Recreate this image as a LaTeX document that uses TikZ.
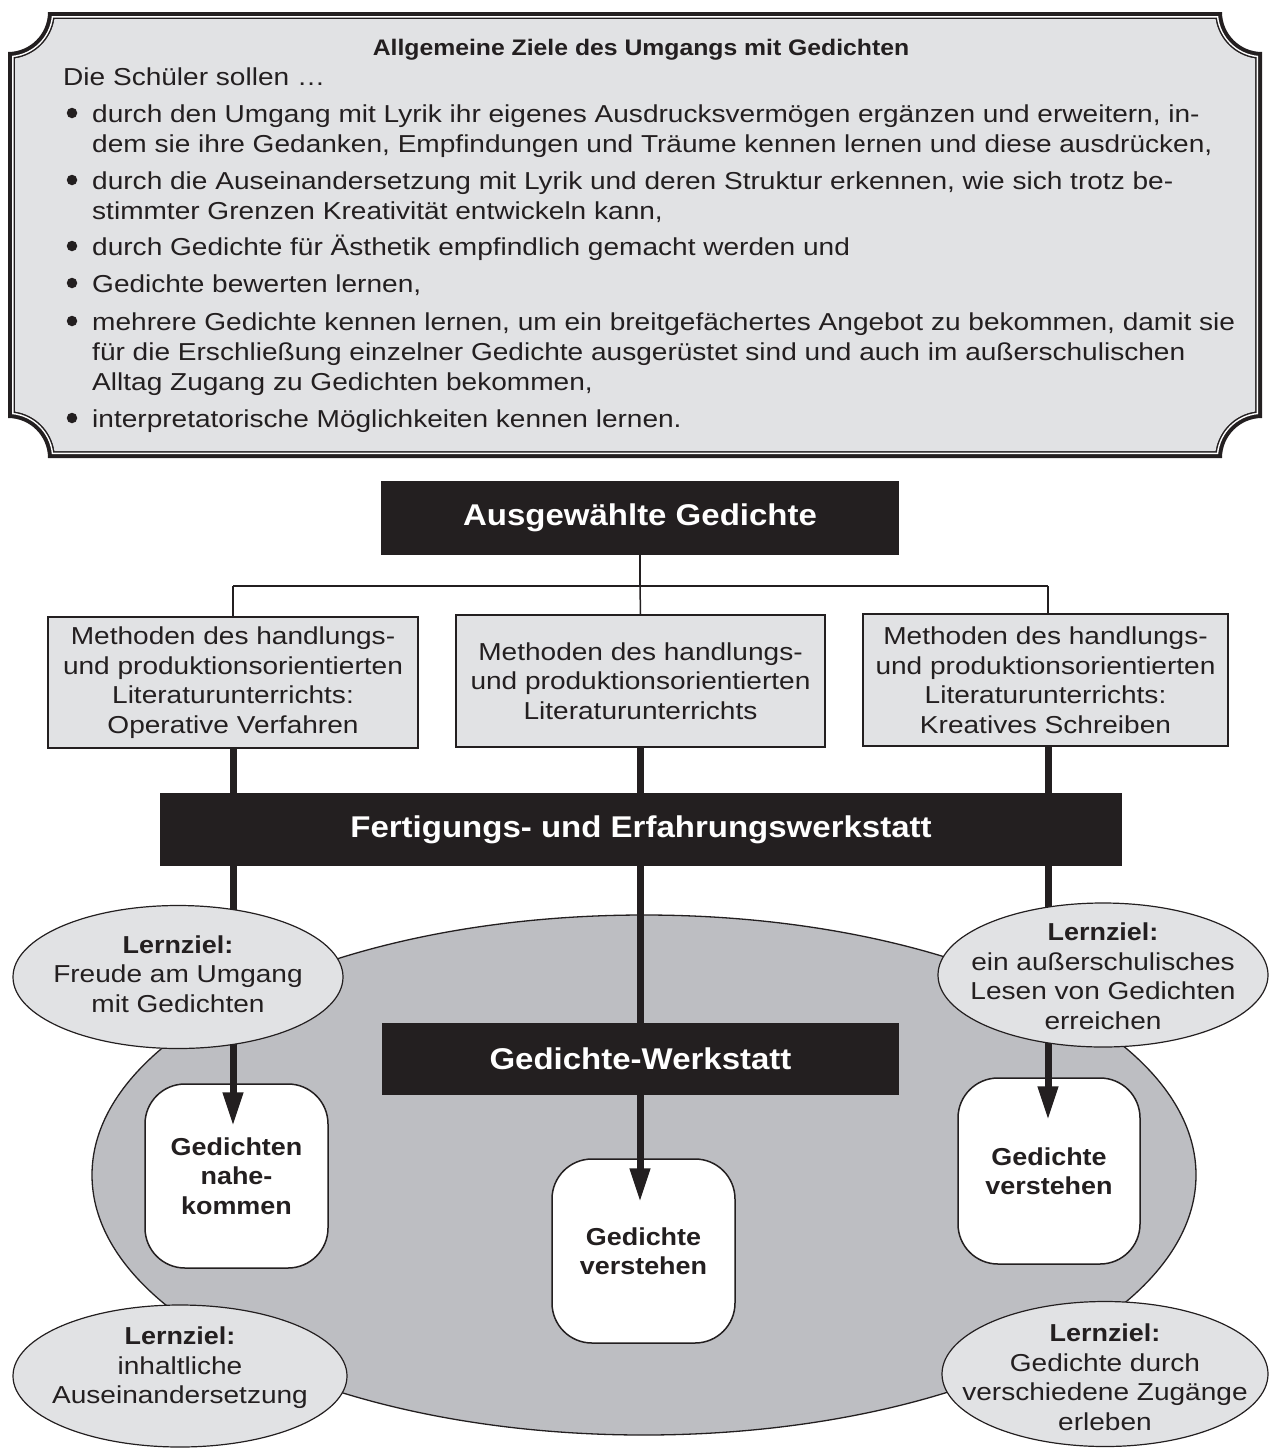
\documentclass[tikz,border=0pt]{standalone}
\usepackage{fontspec}
\setmainfont{Liberation Sans}[UprightFeatures={FakeStretch=1.145},BoldFeatures={FakeStretch=1.1}]
\usetikzlibrary{shapes.geometric,arrows.meta,calc}
\definecolor{ink}{HTML}{231F20}
\definecolor{lightbox}{HTML}{E1E2E4}
\definecolor{biggray}{HTML}{BDBEC2}
\newcommand\zierrahmen[2]{%
  \pgfmathsetmacro\zr{40+#1}%
  \pgfmathsetmacro\za{asin(#1/\zr)}%
  \pgfmathsetmacro\zt{sqrt(\zr*\zr-#1*#1)}%
  \fill[#2] (8+#1,12+\zt) arc[start angle=90-\za, end angle=\za, radius=\zr]
    -- (1262-\zt,12+#1) arc[start angle=180-\za, end angle=90+\za, radius=\zr]
    -- (1262-#1,458-\zt) arc[start angle=270-\za, end angle=180+\za, radius=\zr]
    -- (8+\zt,458-#1) arc[start angle=360-\za, end angle=270+\za, radius=\zr]
    -- cycle;
}
\begin{document}
\begin{tikzpicture}[x=1pt,y=-1pt,
  body/.style={font=\fontsize{24.5}{29.5}\selectfont, text=ink, inner sep=0pt},
  txtline/.style={body, anchor=base west},
  titleline/.style={font=\bfseries\fontsize{22.5}{27}\selectfont, text=ink, inner sep=0pt, anchor=base},
  dot/.style={circle, fill=ink, inner sep=0pt, minimum size=10.5pt},
  methbox/.style={draw=ink, line width=1.3pt, fill=lightbox, body, align=center},
  blackbox/.style={fill=ink, text=white, font=\bfseries\fontsize{30}{36}\selectfont, inner sep=0pt},
  goal/.style={ellipse, draw=ink, line width=1.2pt, fill=lightbox, inner sep=0pt},
  goaltext/.style={body, align=center},
  roundbox/.style={draw=ink, line width=1.5pt, fill=white, rounded corners=40pt, font=\bfseries\fontsize{24.5}{29.5}\selectfont, text=ink, align=center, inner sep=0pt},
  thinlink/.style={draw=ink, line width=1.5pt},
  arrowlink/.style={draw=ink, line width=7pt, -{Triangle[length=34pt,width=19pt]}},
]
\useasboundingbox (0,0) rectangle (1269,1448);
% ---------- top frame ----------
\zierrahmen{0}{ink}
\zierrahmen{4}{white}
\zierrahmen{5.5}{ink}
\zierrahmen{7}{lightbox}
\node[titleline] (ttl) at (641,55) {Allgemeine Ziele des Umgangs mit Gedichten};
\node[txtline] (l0) at (63,85) {Die Schüler sollen …};
\node[dot] (b1) at (72,113) {};
\node[txtline] (l1) at (92,122) {durch den Umgang mit Lyrik ihr eigenes Ausdrucksvermögen ergänzen und erweitern, in-};
\node[txtline] (l2) at (92,152) {dem sie ihre Gedanken, Empfindungen und Träume kennen lernen und diese ausdrücken,};
\node[dot] (b2) at (72,180) {};
\node[txtline] (l3) at (92,189) {durch die Auseinandersetzung mit Lyrik und deren Struktur erkennen, wie sich trotz be-};
\node[txtline] (l4) at (92,219) {stimmter Grenzen Kreativität entwickeln kann,};
\node[dot] (b3) at (72,246) {};
\node[txtline] (l5) at (92,255) {durch Gedichte für Ästhetik empfindlich gemacht werden und};
\node[dot] (b4) at (72,283) {};
\node[txtline] (l6) at (92,292) {Gedichte bewerten lernen,};
\node[dot] (b5) at (72,321) {};
\node[txtline] (l7) at (92,330) {mehrere Gedichte kennen lernen, um ein breitgefächertes Angebot zu bekommen, damit sie};
\node[txtline] (l8) at (92,360) {für die Erschließung einzelner Gedichte ausgerüstet sind und auch im außerschulischen};
\node[txtline] (l9) at (92,390) {Alltag Zugang zu Gedichten bekommen,};
\node[dot] (b6) at (72,418) {};
\node[txtline] (l10) at (92,427) {interpretatorische Möglichkeiten kennen lernen.};
% ---------- upper diagram ----------
\node[blackbox, minimum width=518pt, minimum height=74pt] (ausw) at (640,518) {Ausgewählte Gedichte};
\node[methbox, minimum width=370pt, minimum height=131pt] (m1) at (233,682.5)
  {Methoden des handlungs-\\und produktionsorientierten\\Literaturunterrichts:\\Operative Verfahren};
\node[methbox, minimum width=369pt, minimum height=132pt] (m2) at (640.5,681)
  {Methoden des handlungs-\\und produktionsorientierten\\Literaturunterrichts};
\node[methbox, minimum width=365pt, minimum height=132pt] (m3) at (1045.5,680)
  {Methoden des handlungs-\\und produktionsorientierten\\Literaturunterrichts:\\Kreatives Schreiben};
\coordinate (hl) at (233,586);
\coordinate (hr) at (1048,586);
\draw[thinlink] (ausw.south) -- (ausw.south |- hl);
\draw[thinlink] (hl) -- (hr);
\draw[thinlink] (hl) -- (hl |- m1.north);
\draw[thinlink] (hr) -- (hr |- m3.north);
\draw[thinlink] (ausw.south |- hl) -- (m2.north);
% ---------- lower diagram ----------
\node[ellipse, draw=ink, line width=1.3pt, fill=biggray, minimum width=1104pt, minimum height=520pt, inner sep=0pt] (werk) at (644,1175) {};
\node[roundbox, minimum width=183pt, minimum height=184pt] (nahe) at (236.5,1176) {Gedichten\\nahe-\\kommen};
\node[roundbox, minimum width=183pt, minimum height=184pt] (vmid) at (643.5,1251) {Gedichte\\verstehen};
\node[roundbox, minimum width=182pt, minimum height=186pt] (vright) at (1049,1171) {Gedichte\\verstehen};
\coordinate (xl) at (233,0);
\coordinate (xm) at (640,0);
\coordinate (xr) at (1048,0);
\draw[arrowlink, shorten >=-43pt] (m1.south -| xl) -- (nahe.north -| xl);
\draw[arrowlink, shorten >=-44pt] (m2.south -| xm) -- (vmid.north -| xm);
\draw[arrowlink, shorten >=-43pt] (m3.south -| xr) -- (vright.north -| xr);
\node[blackbox, minimum width=962pt, minimum height=73pt] (fert) at (641,829.5) {Fertigungs- und Erfahrungswerkstatt};
\node[blackbox, minimum width=517pt, minimum height=72pt] (gw) at (640.5,1059) {Gedichte-Werkstatt};
\node[goal, minimum width=330pt, minimum height=143pt] (lz1) at (178,977) {};
\node[goaltext] (lz1t) at (178,974) {\textbf{Lernziel:}\\Freude am Umgang\\mit Gedichten};
\node[goal, minimum width=330pt, minimum height=144pt] (lz2) at (1103,975) {};
\node[goaltext] (lz2t) at (1103,976) {\textbf{Lernziel:}\\ein außerschulisches\\Lesen von Gedichten\\erreichen};
\node[goal, minimum width=334pt, minimum height=142pt] (lz3) at (180,1376) {};
\node[goaltext] (lz3t) at (180,1368) {\textbf{Lernziel:}\\inhaltliche\\Auseinandersetzung};
\node[goal, minimum width=326pt, minimum height=145pt] (lz4) at (1105,1374) {};
\node[goaltext] (lz4t) at (1105,1377) {\textbf{Lernziel:}\\Gedichte durch\\verschiedene Zugänge\\erleben};
\end{tikzpicture}
\end{document}
